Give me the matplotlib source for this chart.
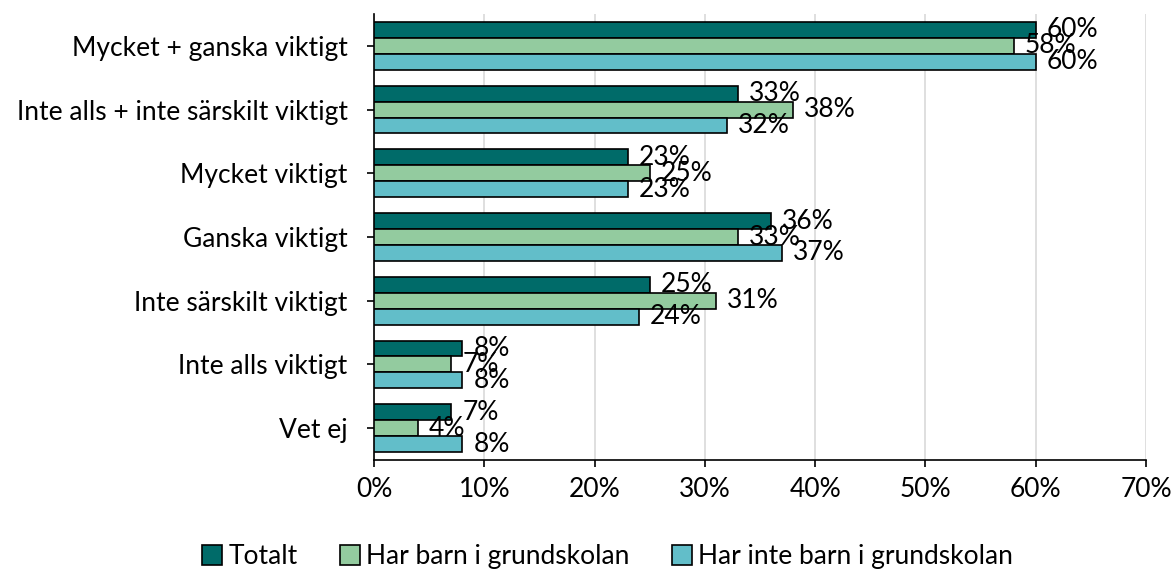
import matplotlib
matplotlib.use("Agg")
import matplotlib.pyplot as plt
import numpy as np

plt.rcParams['font.family'] = ['Lato', 'DejaVu Sans']

categories = ['Mycket + ganska viktigt', 'Inte alls + inte särskilt viktigt',
              'Mycket viktigt', 'Ganska viktigt', 'Inte särskilt viktigt',
              'Inte alls viktigt', 'Vet ej']
totalt = [60, 33, 23, 36, 25, 8, 7]
har_barn = [58, 38, 25, 33, 31, 7, 4]
har_inte_barn = [60, 32, 23, 37, 24, 8, 8]
series_names = ['Totalt', 'Har barn i grundskolan', 'Har inte barn i grundskolan']
colors = ['#006b69', '#93cb9f', '#62bec9']
xticks = [0, 10, 20, 30, 40, 50, 60, 70]

fs = 19

fig = plt.figure(figsize=(11.73, 5.74), dpi=100)
ax = fig.add_axes([0.3188, 0.1986, 0.977 - 0.3188, 0.9756 - 0.1986])

y = np.arange(len(categories))
h = 0.25
for i, (vals, name, c) in enumerate(zip([totalt, har_barn, har_inte_barn], series_names, colors)):
    pos = y + (i - 1) * h
    ax.barh(pos, vals, height=h, color=c, edgecolor='black', linewidth=1.2, label=name, zorder=3)
    for v, p in zip(vals, pos):
        ax.annotate(f'{v}%', (v, p), xytext=(8, 0), textcoords='offset points',
                    va='center', ha='left', fontsize=fs, zorder=4)

ax.set_ylim(len(categories) - 0.5, -0.5)
ax.set_xlim(0, 70)
ax.set_xticks(xticks)
ax.set_xticklabels([f'{t}%' for t in xticks], fontsize=fs)
ax.set_yticks(y)
ax.set_yticklabels(categories, fontsize=fs)
ax.tick_params(axis='x', direction='out', length=5, width=1.2, pad=7)
ax.tick_params(axis='y', direction='out', length=5, width=1.2, pad=14)
ax.xaxis.grid(True, color='#d9d9d9', linewidth=1.2, zorder=0)
ax.set_axisbelow(True)
for s in ['top', 'right']:
    ax.spines[s].set_visible(False)
for s in ['left', 'bottom']:
    ax.spines[s].set_linewidth(1.2)

fig.legend(loc='center', bbox_to_anchor=(0.518, 0.03), ncol=3, frameon=False,
           fontsize=fs, handlelength=0.75, handleheight=0.75, handletextpad=0.25,
           columnspacing=1.6)

fig.savefig('out.png', dpi=100)
